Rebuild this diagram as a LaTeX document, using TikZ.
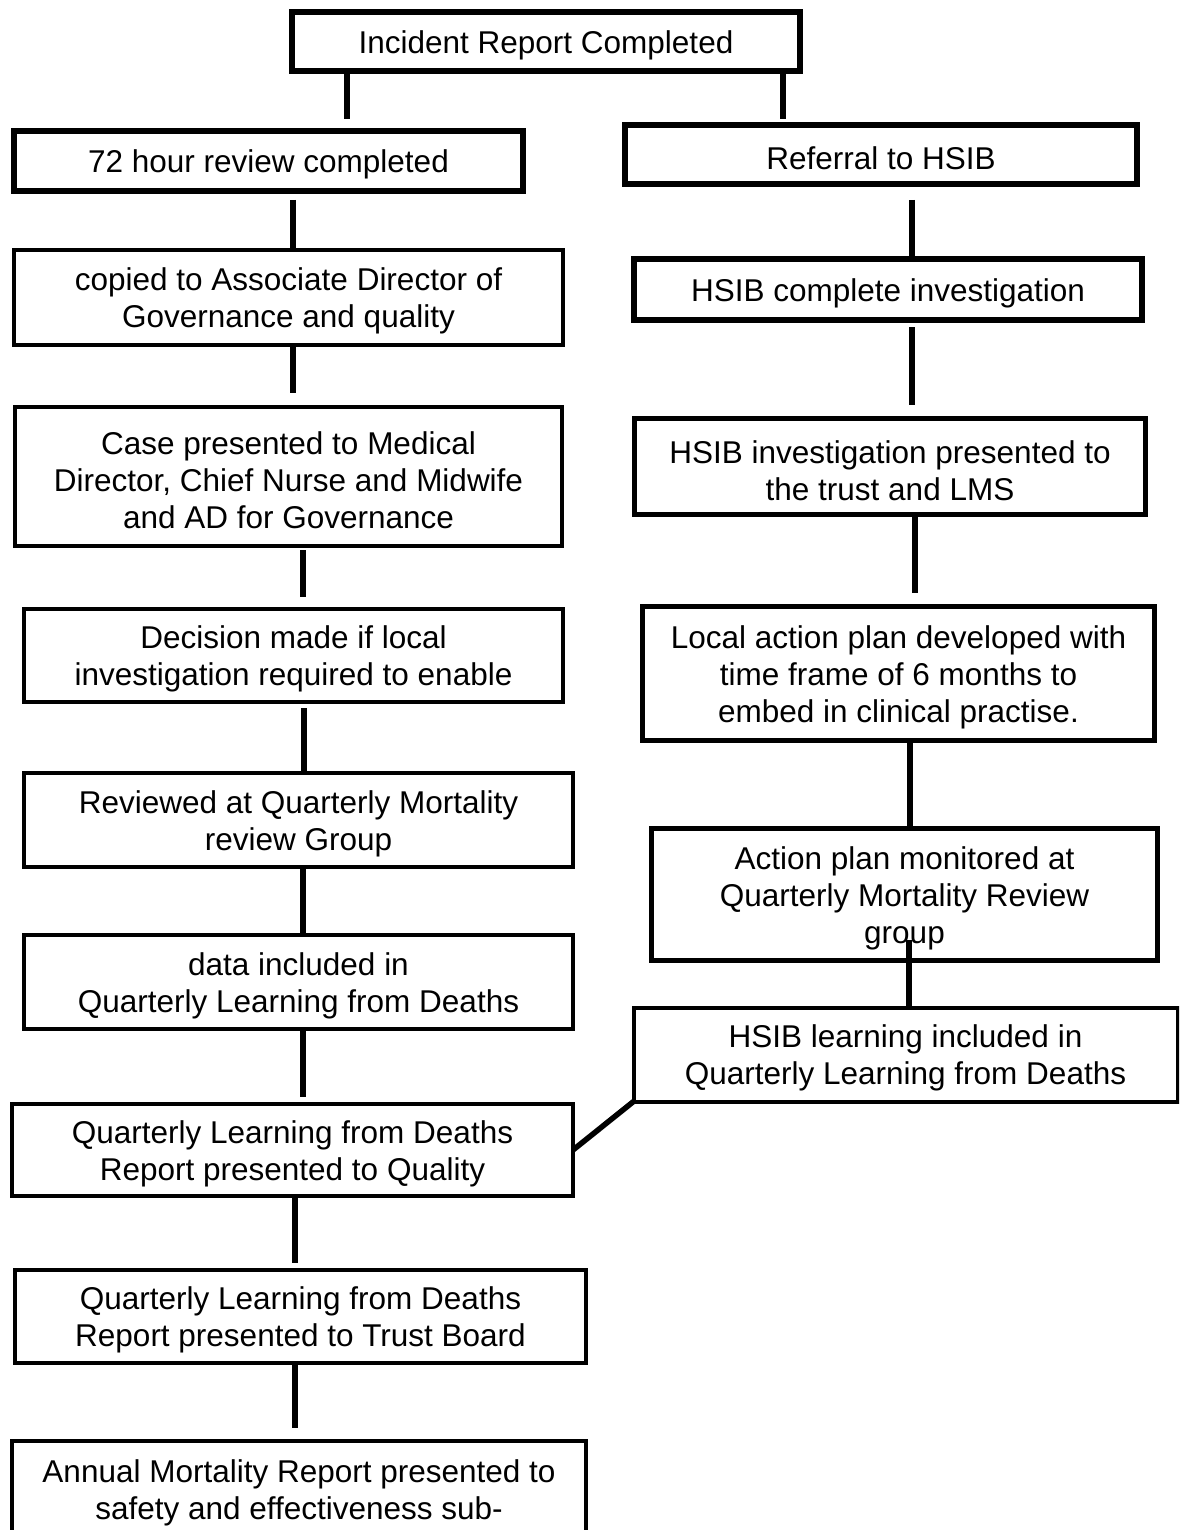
\documentclass[tikz,border=0pt]{standalone}
\usepackage{fontspec}
\setmainfont{Liberation Sans}
\newcommand\fl{\rule{0pt}{15.2pt}}
\begin{document}
\begin{tikzpicture}[x=0.5pt,y=-0.5pt,
  box/.style={draw=black, line width=2pt, inner sep=0pt, outer sep=0pt, align=center,
    font=\fontsize{15.75pt}{18.5pt}\selectfont},
  thickbox/.style={box, line width=2.75pt},
  conn/.style={draw=black, line width=2.75pt}]
\useasboundingbox (0,0) rectangle (1179,1530);
\fill[white] (0,0) rectangle (1179,1530);
\clip (0,0) rectangle (1179,1530);
% boxes
\node[thickbox, minimum width=254pt, minimum height=29.5pt] (top) at (546,41.5) {\fl Incident Report Completed};
\node[thickbox, minimum width=254.5pt, minimum height=30pt] (r72) at (268.5,161) {\fl 72 hour review completed};
\node[thickbox, minimum width=256pt, minimum height=29.5pt] (ref) at (881,154.5) {\fl Referral to HSIB};
\node[box, minimum width=274.5pt, minimum height=47.5pt] (cop) at (288.5,297.5) {\fl copied to Associate Director of\\Governance and quality};
\node[thickbox, minimum width=254pt, minimum height=30.5pt] (hcomp) at (888,289.5) {\fl HSIB complete investigation};
\node[box, minimum width=273.5pt, minimum height=69.5pt] (case) at (288.5,476.5) {\fl Case presented to Medical\\Director, Chief Nurse and Midwife\\and AD for Governance};
\node[thickbox, minimum width=255.5pt, minimum height=48pt] (hpres) at (890,466.5) {\fl HSIB investigation presented to\\the trust and LMS};
\node[box, minimum width=269.5pt, minimum height=46.5pt] (dec) at (293.5,655.5) {\fl Decision made if local\\investigation required to enable};
\node[thickbox, minimum width=256pt, minimum height=67pt] (local) at (898.5,673.5) {\fl Local action plan developed with\\time frame of 6 months to\\embed in clinical practise.};
\node[box, minimum width=274.5pt, minimum height=47pt] (rev) at (298.5,820) {\fl Reviewed at Quarterly Mortality\\review Group};
\node[thickbox, minimum width=253pt, minimum height=66pt] (mon) at (904.5,894.5) {\fl Action plan monitored at\\Quarterly Mortality Review\\group};
\node[box, minimum width=274.5pt, minimum height=47pt] (data) at (298.5,982) {\fl data included in\\Quarterly Learning from Deaths};
\node[box, minimum width=272pt, minimum height=47pt] (hlearn) at (905.5,1054.5) {\fl HSIB learning included in\\Quarterly Learning from Deaths};
\node[box, minimum width=280.5pt, minimum height=46pt] (qual) at (292.5,1150) {\fl Quarterly Learning from Deaths\\Report presented to Quality};
\node[box, minimum width=285.5pt, minimum height=46.5pt] (board) at (300.5,1316.5) {\fl Quarterly Learning from Deaths\\Report presented to Trust Board};
\node[box, minimum width=287pt, minimum height=48.5pt] (annual) at (299,1489.5) {\fl Annual Mortality Report presented to\\safety and effectiveness sub-};
% connectors
\draw[conn, shorten >=6pt] (347,0 |- top.south) -- (347,0 |- r72.north);
\draw[conn, shorten >=3pt] (783,0 |- top.south) -- (783,0 |- ref.north);
\draw[conn, shorten <=4.5pt] (293,0 |- r72.south) -- (293,0 |- cop.north);
\draw[conn, shorten >=7pt] (293,0 |- cop.south) -- (293,0 |- case.north);
\draw[conn, shorten <=2pt, shorten >=6pt] (303,0 |- case.south) -- (303,0 |- dec.north);
\draw[conn, shorten <=3pt, shorten >=1pt] (304,0 |- dec.south) -- (304,0 |- rev.north);
\draw[conn] (303,0 |- rev.south) -- (303,0 |- data.north);
\draw[conn, shorten >=3.5pt] (303,0 |- data.south) -- (303,0 |- qual.north);
\draw[conn, shorten >=3.5pt] (295,0 |- qual.south) -- (295,0 |- board.north);
\draw[conn, shorten <=1pt, shorten >=6.5pt] (295,0 |- board.south) -- (295,0 |- annual.north);
\draw[conn, shorten <=8pt] (912,0 |- ref.south) -- (912,0 |- hcomp.north);
\draw[conn, shorten <=3.5pt, shorten >=6.75pt] (912,0 |- hcomp.south) -- (912,0 |- hpres.north);
\draw[conn, shorten >=6.75pt] (915,0 |- hpres.south) -- (915,0 |- local.north);
\draw[conn] (910,0 |- local.south) -- (910,0 |- mon.north);
\draw[conn, shorten <=-10.25pt] (909,0 |- mon.south) -- (909,0 |- hlearn.north);
\draw[conn] (hlearn.south west) -- (qual.east);
\end{tikzpicture}
\end{document}
